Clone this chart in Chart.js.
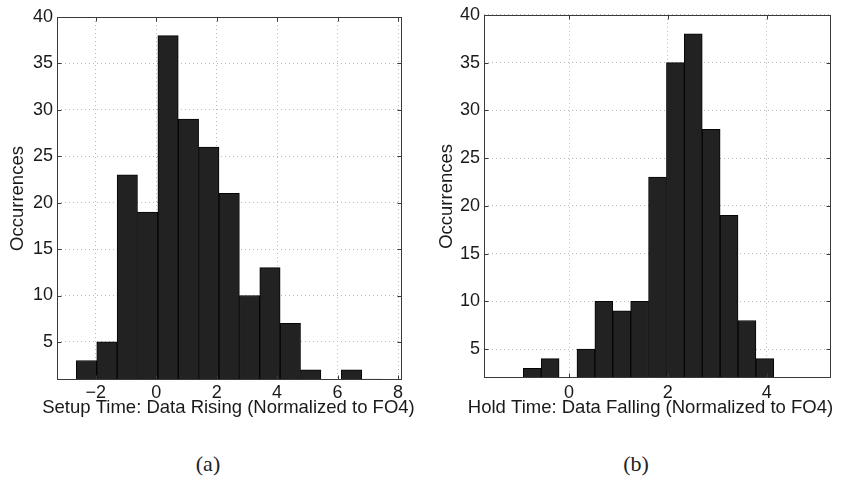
<!DOCTYPE html>
<html><head><meta charset="utf-8">
<script src="https://cdn.jsdelivr.net/npm/chart.js@4.4.1/dist/chart.umd.min.js"></script>
<style>
html,body{margin:0;padding:0;background:#fff;}
#wrap{position:relative;width:845px;height:497px;overflow:hidden;background:#fff;}
#wrap canvas{position:absolute;}
.cap{position:absolute;font-family:"Liberation Serif","DejaVu Serif",serif;font-size:22px;color:#222;transform:translate(-50%,-50%);white-space:nowrap;}
</style></head><body>
<div id="wrap">
<canvas id="c1" width="420" height="430" style="left:0;top:0"></canvas>
<canvas id="c2" width="425" height="430" style="left:420px;top:0"></canvas>
<div class="cap" id="capA" style="left:208px;top:464px"></div>
<div class="cap" id="capB" style="left:636px;top:464px"></div>
</div>
<script>
// ---- data ----
const setupBinCenters = [-2.303, -1.629, -0.955, -0.281, 0.393, 1.067, 1.741, 2.415, 3.089, 3.763, 4.437, 5.111, 5.785, 6.459, 7.133];
const setupCounts     = [3, 5, 23, 19, 38, 29, 26, 21, 10, 13, 7, 2, 0, 2, 1];
const holdBinCenters  = [-0.744, -0.382, -0.020, 0.342, 0.704, 1.066, 1.428, 1.790, 2.152, 2.514, 2.876, 3.238, 3.600, 3.962, 4.324];
const holdCounts      = [3, 4, 2, 5, 10, 9, 10, 23, 35, 38, 28, 19, 8, 4, 2];
const setupXTicks = [-2, 0, 2, 4, 6, 8];
const holdXTicks  = [0, 2, 4];
const yTicks      = [5, 10, 15, 20, 25, 30, 35, 40];
const setupXLabel = "Setup Time: Data Rising (Normalized to FO4)";
const holdXLabel  = "Hold Time: Data Falling (Normalized to FO4)";
const yLabel      = "Occurrences";
const captions    = ["(a)", "(b)"];

document.getElementById('capA').textContent = captions[0];
document.getElementById('capB').textContent = captions[1];

const SANS = '"Liberation Sans", Arial, Helvetica, sans-serif';
const TXT = '#1a1a1a';

const boxPlugin = {
  id: 'boxTicks',
  afterDraw(chart) {
    const {ctx, chartArea: a, scales: {x, y}} = chart;
    ctx.save();
    ctx.setLineDash([]);
    ctx.strokeStyle = '#3a3a3a';
    ctx.lineWidth = 1;
    const L = Math.round(a.left) + 0.5, R = Math.round(a.right) - 0.5;
    const T = Math.round(a.top) + 0.5, B = Math.round(a.bottom) - 0.5;
    ctx.strokeRect(L, T, R - L, B - T);
    ctx.beginPath();
    x.ticks.forEach(t => {
      const p = Math.round(x.getPixelForValue(t.value)) + 0.5;
      ctx.moveTo(p, B); ctx.lineTo(p, B - 4);
      ctx.moveTo(p, T); ctx.lineTo(p, T + 4);
    });
    y.ticks.forEach(t => {
      const p = Math.round(y.getPixelForValue(t.value)) + 0.5;
      ctx.moveTo(L, p); ctx.lineTo(L + 4, p);
      ctx.moveTo(R, p); ctx.lineTo(R - 4, p);
    });
    ctx.stroke();
    // x-axis title, drawn without width compression
    const o = chart.options.plugins.xTitle;
    ctx.fillStyle = TXT;
    ctx.font = '18.5px ' + SANS;
    ctx.textAlign = 'center';
    ctx.textBaseline = 'middle';
    ctx.fillText(o.text, (a.left + a.right) / 2 + o.dx, o.y);
    ctx.restore();
  }
};

function makeHist(id, centers, counts, xTicks, xLabel, c) {
  new Chart(document.getElementById(id), {
    type: 'bar',
    data: {
      datasets: [{
        data: centers.map((x, i) => ({x: x, y: counts[i]})),
        backgroundColor: '#222222',
        borderColor: '#050505',
        borderWidth: 1,
        barPercentage: 1,
        categoryPercentage: 1
      }]
    },
    options: {
      responsive: false,
      animation: false,
      devicePixelRatio: 1,
      layout: {padding: {top: c.padTop, right: c.padRight, left: 0, bottom: 0}},
      plugins: {legend: {display: false}, tooltip: {enabled: false},
                xTitle: {text: xLabel, y: 408, dx: c.titleDx}},
      scales: {
        x: {
          type: 'linear', min: c.xMin, max: c.xMax, offset: false,
          afterBuildTicks: s => { s.ticks = xTicks.map(v => ({value: v})); },
          afterFit: s => { s.height = c.xAxisH; },
          grid: {color: '#b8b8b8', drawTicks: false, offset: false, lineWidth: 1},
          border: {display: false, dash: [1, 3]},
          ticks: {padding: c.xTickPad, color: TXT, font: {family: SANS, size: 18},
                  maxRotation: 0, callback: v => String(v).replace('-', '\u2212')},
          title: {display: false}
        },
        y: {
          type: 'linear', min: c.yMin, max: 40,
          afterBuildTicks: s => { s.ticks = yTicks.map(v => ({value: v})); },
          afterFit: s => { s.width = c.yAxisW; },
          grid: {color: '#b8b8b8', drawTicks: false, lineWidth: 1},
          border: {display: false, dash: [1, 3]},
          ticks: {padding: 4, color: TXT, font: {family: SANS, size: 18}},
          title: {display: true, text: yLabel, color: TXT, font: {family: SANS, size: 18.5},
                  padding: {top: c.yTitlePad, bottom: 0}}
        }
      }
    },
    plugins: [boxPlugin]
  });
}

makeHist('c1', setupBinCenters, setupCounts, setupXTicks, setupXLabel,
  {xMin: -3.28, xMax: 8.13, yMin: 0.9, padTop: 17, padRight: 18, yAxisW: 57, xAxisH: 50,
   xTickPad: 2, yTitlePad: 7, titleDx: -1});
makeHist('c2', holdBinCenters, holdCounts, holdXTicks, holdXLabel,
  {xMin: -1.72, xMax: 5.30, yMin: 1.98, padTop: 13, padRight: 14, yAxisW: 64, xAxisH: 52,
   xTickPad: 4, yTitlePad: 16, titleDx: -7});
</script>
</body></html>
